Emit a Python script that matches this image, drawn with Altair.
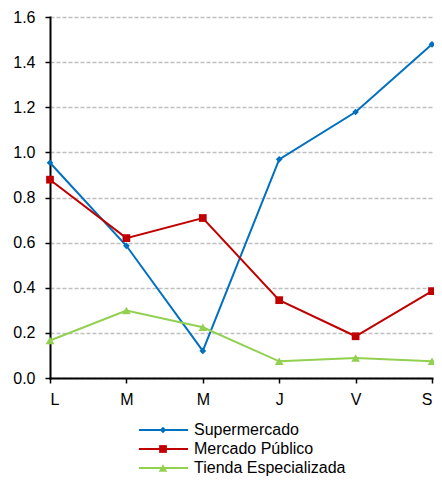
import altair as alt
import pandas as pd

days = ["L", "M", "M", "J", "V", "S"]
series_names = ["Supermercado", "Mercado Público", "Tienda Especializada"]
supermercado = [0.954, 0.586, 0.120, 0.969, 1.179, 1.479]
mercado = [0.879, 0.620, 0.709, 0.345, 0.185, 0.385]
tienda = [0.166, 0.299, 0.225, 0.074, 0.089, 0.074]
colors = ["#0070C0", "#C00000", "#92D050"]
shapes = ["diamond", "square", "triangle-up"]

rows = []
for name, vals in zip(series_names, [supermercado, mercado, tienda]):
    for i, v in enumerate(vals):
        rows.append({"idx": i, "value": v, "series": name})
df = pd.DataFrame(rows)
leg = pd.DataFrame({"series": series_names})

label_expr = "[" + ",".join(f"'{d}'" for d in days) + "][datum.value]"

color = alt.Color("series:N", scale=alt.Scale(domain=series_names, range=colors), legend=None)
shape = alt.Shape("series:N", scale=alt.Scale(domain=series_names, range=shapes), legend=None)
size = alt.Size("series:N", scale=alt.Scale(domain=series_names, range=[45, 75, 55]), legend=None)

x = alt.X("idx:Q", scale=alt.Scale(domain=[0, 5], nice=False, zero=False),
          axis=alt.Axis(values=list(range(6)), labelExpr=label_expr, title=None,
                        grid=False, domainColor="black", domainWidth=2,
                        tickColor="black", tickSize=5, tickWidth=1.5,
                        labelFontSize=16, labelColor="#000", labelPadding=8,
                        labelFont="Liberation Sans"))
y = alt.Y("value:Q", scale=alt.Scale(domain=[0, 1.6], nice=False),
          axis=alt.Axis(values=[0, 0.2, 0.4, 0.6, 0.8, 1.0, 1.2, 1.4, 1.6], format=".1f",
                        title=None, grid=True, gridColor="#BFBFBF", gridDash=[4, 2],
                        gridWidth=1.5, domainColor="black", domainWidth=2,
                        tickColor="black", tickSize=5, tickWidth=1.5,
                        labelFontSize=16, labelColor="#000", labelPadding=10,
                        labelFont="Liberation Sans"))

base = alt.Chart(df)
lines = base.mark_line(strokeWidth=2).encode(x=x, y=y, color=color)
points = base.mark_point(filled=True, opacity=1).encode(x=x, y=y, color=color, shape=shape, size=size)
main_layer = alt.layer(lines, points)

ly = alt.Y("series:N", sort=series_names,
           scale=alt.Scale(type="point", domain=series_names, range=[413, 451], padding=0),
           axis=None)
lbase = alt.Chart(leg)
leg_rule = lbase.mark_rule(strokeWidth=2).encode(
    x=alt.value(89), x2=alt.value(138), y=ly, color=color)
leg_pt = lbase.mark_point(filled=True, opacity=1).encode(
    x=alt.value(113), y=ly, color=color, shape=shape, size=size)
leg_txt = lbase.mark_text(align="left", baseline="middle", fontSize=16,
                          font="Liberation Sans", color="#000").encode(
    x=alt.value(144), y=ly, text="series:N")

legend_layer = alt.layer(leg_rule, leg_pt, leg_txt)

chart = alt.layer(main_layer, legend_layer).resolve_scale(y="independent").properties(
    width=382, height=361,
    autosize=alt.AutoSizeParams(type="none"),
    padding={"left": 42, "top": 9, "right": 2, "bottom": 99},
).configure_view(stroke=None).configure_axis(domainCap="square")

chart.save("out.html", embed_options={"renderer": "svg", "actions": False})
